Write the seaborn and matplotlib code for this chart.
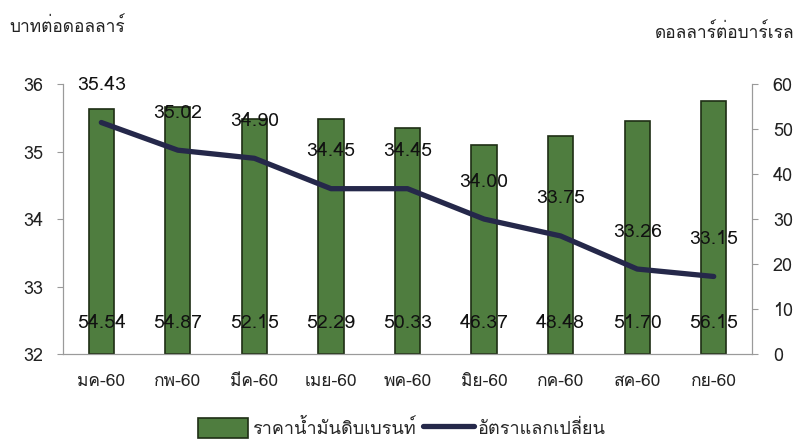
import numpy as np
import matplotlib
matplotlib.use('Agg')
import matplotlib.pyplot as plt
import seaborn as sns
from matplotlib import font_manager
from matplotlib.ft2font import FT2Font
from matplotlib.lines import Line2D
from matplotlib.patches import Patch

months = ['มค-60', 'กพ-60', 'มีค-60', 'เมย-60', 'พค-60', 'มิย-60', 'กค-60', 'สค-60', 'กย-60']
brent = [54.54, 54.87, 52.15, 52.29, 50.33, 46.37, 48.48, 51.70, 56.15]
fx_rate = [35.43, 35.02, 34.90, 34.45, 34.45, 34.00, 33.75, 33.26, 33.15]
left_ticks = [32, 33, 34, 35, 36]
right_ticks = [0, 10, 20, 30, 40, 50, 60]


def thai_font():
    # find an installed font that has Thai glyphs
    for f in font_manager.fontManager.ttflist:
        try:
            if FT2Font(f.fname).get_char_index(0x0E01):
                return f.name
        except Exception:
            continue
    return 'DejaVu Sans'


sns.set_style('white')
plt.rcParams['font.family'] = [thai_font(), 'DejaVu Sans']
plt.rcParams['axes.unicode_minus'] = False

bar_green = '#4f7d3f'
bar_edge = '#1e2e14'
line_navy = '#25284a'
axis_grey = '#9a9a9a'

fig = plt.figure(figsize=(8.03, 4.41), dpi=100)
ax = fig.add_axes([0.0785, 0.197, 0.858, 0.6125])
ax2 = ax.twinx()

sns.barplot(x=months, y=brent, ax=ax2, color=bar_green, width=0.33,
            edgecolor=bar_edge, linewidth=1.2, saturation=1)
sns.lineplot(x=np.arange(len(months)), y=fx_rate, ax=ax, color=line_navy,
             linewidth=3.8)

ax.set_zorder(ax2.get_zorder() + 1)
ax.patch.set_visible(False)

ax.set_xlim(-0.5, len(months) - 0.5)
ax.set_ylim(32, 36)
ax2.set_ylim(0, 60)
ax.set_yticks(left_ticks)
ax2.set_yticks(right_ticks)
ax.set_xticks(np.arange(len(months)))
ax.set_xticklabels(months)
ax.set_xticks(np.arange(len(months) + 1) - 0.5, minor=True)
ax2.set_xlabel('')
ax2.set_ylabel('')

for a in (ax, ax2):
    for s in a.spines.values():
        s.set_color(axis_grey)
        s.set_linewidth(0.8)
    a.spines['top'].set_visible(False)
ax.tick_params(axis='x', which='major', length=0, pad=14, labelsize=12.5, colors='#222222')
ax.tick_params(axis='x', which='minor', length=7, color=axis_grey, direction='out')
ax.tick_params(axis='y', length=4, color=axis_grey, pad=10, labelsize=13, labelcolor='#222222', direction='out')
ax2.tick_params(axis='y', length=4, color=axis_grey, pad=11, labelsize=13, labelcolor='#222222', direction='out')
ax2.tick_params(axis='x', length=0, labelbottom=False)

# value labels
for i, v in enumerate(fx_rate):
    ax.annotate(f'{v:.2f}', (i, v), xytext=(0, 27), textcoords='offset points',
                ha='center', va='center', fontsize=14, color='#111111')
for i, v in enumerate(brent):
    ax.text(i, 32.46, f'{v:.2f}', ha='center', va='center', fontsize=14, color='#111111')

fig.text(0.012, 0.94, 'บาทต่อดอลลาร์', fontsize=12.5, ha='left', va='center', color='#222222')
fig.text(0.99, 0.925, 'ดอลลาร์ต่อบาร์เรล', fontsize=12.5, ha='right', va='center', color='#222222')

handles = [Patch(facecolor=bar_green, edgecolor=bar_edge, linewidth=1.2),
           Line2D([0], [0], color=line_navy, linewidth=3.8)]
fig.legend(handles, ['ราคาน้ำมันดิบเบรนท์', 'อัตราแลกเปลี่ยน'], loc='center',
           bbox_to_anchor=(0.5, 0.03), ncol=2, frameon=False, fontsize=13,
           handlelength=2.8, handleheight=1.3, handletextpad=0.2, columnspacing=0.4)

fig.savefig('out.png', dpi=100)
